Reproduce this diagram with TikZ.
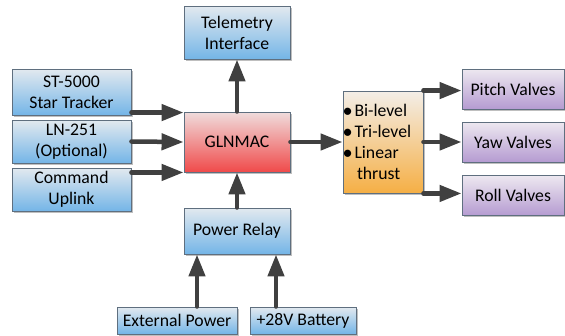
\documentclass[tikz,border=0pt]{standalone}
\usepackage{fontspec}
\usepackage{graphicx}
\setmainfont{Carlito}
\usetikzlibrary{arrows.meta,shadows}
\definecolor{bordc}{HTML}{5F6F7F}
\definecolor{arrc}{HTML}{404040}
\definecolor{bluetop}{HTML}{E2E9EF}
\definecolor{bluebot}{HTML}{74B5E7}
\definecolor{redtop}{HTML}{F0DCDC}
\definecolor{redbot}{HTML}{F04A4A}
\definecolor{orgtop}{HTML}{F3EEE8}
\definecolor{orgbot}{HTML}{F5AF45}
\definecolor{purtop}{HTML}{EDE8F0}
\definecolor{purbot}{HTML}{B59BD1}
\newcommand{\mybul}{\makebox[10.5pt][l]{\hspace*{-1.5pt}\raisebox{-0.04em}{\scalebox{1.15}{\textbullet}}}}
\tikzset{
  boxbase/.style={draw=bordc, line width=0.9pt, inner sep=1pt, align=center,
    font=\fontsize{17.7}{21}\selectfont,
    drop shadow={shadow xshift=1.5pt, shadow yshift=-1.5pt, opacity=0.25, fill=black}},
  bluebox/.style={boxbase, top color=bluetop, bottom color=bluebot},
  redbox/.style={boxbase, top color=redtop, bottom color=redbot},
  orgbox/.style={boxbase, top color=orgtop, bottom color=orgbot},
  purbox/.style={boxbase, top color=purtop, bottom color=purbot},
  arr/.style={draw=arrc, line width=4.5pt, line cap=round,
    -{Triangle[length=22pt,width=16pt]}, arrc}
}
\begin{document}
\begin{tikzpicture}[x=1pt,y=-1pt]
\useasboundingbox (0,0) rectangle (565,335);
\node[bluebox, minimum width=106pt, minimum height=53pt] (tel) at (237,32.5) {Telemetry\\Interface};
\node[bluebox, minimum width=119pt, minimum height=46pt] (st) at (71.5,92) {ST-5000\\Star Tracker};
\node[bluebox, minimum width=119pt, minimum height=43pt] (ln) at (71.5,141.5) {LN-251\\(Optional)};
\node[bluebox, minimum width=119pt, minimum height=43pt] (cmd) at (71.5,189.5) {Command\\Uplink};
\node[redbox, minimum width=106pt, minimum height=60pt] (gl) at (237,142) {GLNMAC};
\node[bluebox, minimum width=106pt, minimum height=46pt] (relay) at (237,231) {Power Relay};
\node[bluebox, minimum width=120pt, minimum height=27pt] (ext) at (177,320.5) {External Power};
\node[bluebox, minimum width=106pt, minimum height=27pt] (bat) at (303,320.5) {+28V Battery};
\node[orgbox, minimum width=80pt, minimum height=102pt, text width=78pt, align=left, inner xsep=1pt] (mode) at (383,142)
  {\mybul Bi-level\\\mybul Tri-level\\\mybul Linear\\\hspace*{13pt}thrust};
\node[purbox, minimum width=102pt, minimum height=40pt] (pitch) at (513,89) {Pitch Valves};
\node[purbox, minimum width=102pt, minimum height=40pt] (yaw) at (513,142) {Yaw Valves};
\node[purbox, minimum width=102pt, minimum height=40pt] (roll) at (513,195.5) {Roll Valves};
% connectors
\draw[arr] ([yshift=-1pt]st.east |- gl.north) -- ([yshift=-1pt]gl.north west);
\draw[arr] (ln.east) -- (gl.west);
\draw[arr] (cmd.east |- gl.south) -- (gl.south west);
\draw[arr] (gl.north) -- (tel.south);
\draw[arr] (relay.north) -- (gl.south);
\draw[arr] ([xshift=20pt]ext.north) -- ([xshift=20pt]ext.north |- relay.south);
\draw[arr] ([xshift=-27pt]bat.north) -- ([xshift=-27pt]bat.north |- relay.south);
\draw[arr] (gl.east) -- (mode.west);
\draw[arr] (mode.north east) -- (mode.north east -| pitch.west);
\draw[arr] (mode.east) -- (yaw.west);
\draw[arr] (mode.south east) -- (mode.south east -| roll.west);
\end{tikzpicture}
\end{document}
